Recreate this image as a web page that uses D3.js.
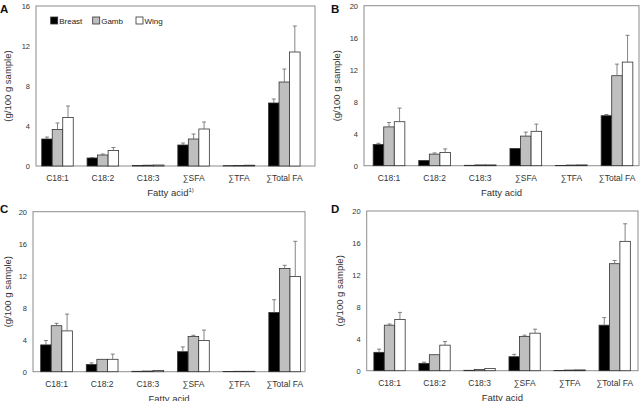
<!DOCTYPE html>
<html>
<head>
<meta charset="utf-8">
<script src="https://cdn.jsdelivr.net/npm/d3@7"></script>
<style>
  body { margin: 0; background: #fff; }
  svg { display: block; font-family: "Liberation Sans", Arial, sans-serif; }
</style>
</head>
<body>
<div id="chart"></div>
<script>
// categories and series
const categories = ["C18:1", "C18:2", "C18:3", "∑SFA", "∑TFA", "∑Total FA"];
const series = ["Breast", "Gamb", "Wing"];
const seriesColors = ["#000000", "#bfbfbf", "#ffffff"];

// panel A (means, upper error)
const breastA = [2.7, 0.8, 0.05, 2.1, 0.03, 6.3];
const gambA   = [3.65, 1.1, 0.08, 2.7, 0.05, 8.4];
const wingA   = [4.85, 1.55, 0.1, 3.7, 0.08, 11.4];
const breastAErr = [0.2, 0.05, 0, 0.2, 0, 0.4];
const gambAErr   = [0.65, 0.1, 0, 0.5, 0, 1.3];
const wingAErr   = [1.15, 0.3, 0, 0.7, 0, 2.6];

// panel B
const breastB = [2.65, 0.65, 0.05, 2.15, 0.03, 6.25];
const gambB   = [4.85, 1.45, 0.1, 3.7, 0.08, 11.25];
const wingB   = [5.5, 1.65, 0.1, 4.3, 0.1, 12.95];
const breastBErr = [0.15, 0, 0, 0, 0, 0.15];
const gambBErr   = [0.55, 0.15, 0, 0.5, 0, 1.45];
const wingBErr   = [1.7, 0.45, 0, 0.9, 0, 3.35];

// panel C
const breastC = [3.35, 0.9, 0.05, 2.5, 0.03, 7.4];
const gambC   = [5.75, 1.55, 0.08, 4.4, 0.05, 12.9];
const wingC   = [5.1, 1.55, 0.15, 3.9, 0.05, 11.9];
const breastCErr = [0.55, 0.2, 0, 0.6, 0, 1.6];
const gambCErr   = [0.3, 0, 0, 0.15, 0, 0.4];
const wingCErr   = [2.1, 0.65, 0, 1.3, 0, 4.4];

// panel D
const breastD = [2.3, 0.92, 0.05, 1.75, 0.03, 5.7];
const gambD   = [5.7, 2.0, 0.15, 4.3, 0.08, 13.4];
const wingD   = [6.4, 3.2, 0.28, 4.7, 0.1, 16.2];
const breastDErr = [0.4, 0.15, 0, 0.3, 0, 0.95];
const gambDErr   = [0.15, 0, 0, 0.15, 0, 0.4];
const wingDErr   = [0.9, 0.45, 0, 0.5, 0, 2.2];

const yTicksA = [0, 4, 8, 12, 16];
const yTicksBCD = [0, 4, 8, 12, 16, 20];

const panels = [
  { id: "A", means: [breastA, gambA, wingA], errs: [breastAErr, gambAErr, wingAErr],
    ymax: 16, ticks: yTicksA, legend: true, sup: true,
    frame: [36, 6, 315, 166], band: [34.8, 307], letter: [0, 13], ytitleX: 11 },
  { id: "B", means: [breastB, gambB, wingB], errs: [breastBErr, gambBErr, wingBErr],
    ymax: 20, ticks: yTicksBCD, legend: false, sup: false,
    frame: [364, 5.7, 639, 165.7], band: [366.2, 639.8], letter: [331, 13], ytitleX: 340 },
  { id: "C", means: [breastC, gambC, wingC], errs: [breastCErr, gambCErr, wingCErr],
    ymax: 20, ticks: yTicksBCD, legend: false, sup: false,
    frame: [33, 211.7, 305, 371.7], band: [33.7, 307.5], letter: [0, 213], ytitleX: 11 },
  { id: "D", means: [breastD, gambD, wingD], errs: [breastDErr, gambDErr, wingDErr],
    ymax: 20, ticks: yTicksBCD, legend: false, sup: false,
    frame: [366.7, 211, 638, 370.7], band: [367, 637.2], letter: [331, 213], ytitleX: 343 }
];

const svg = d3.select("#chart").append("svg")
  .attr("width", 640).attr("height", 401);

panels.forEach(p => {
  const [left, top, right, bottom] = p.frame;
  const g = svg.append("g");

  const y = d3.scaleLinear().domain([0, p.ymax]).range([bottom, top]);
  const x0 = d3.scaleBand().domain(categories).range(p.band)
    .paddingInner(0.305).paddingOuter(0.1525);
  const x1 = d3.scaleBand().domain(series).range([0, x0.bandwidth()]);

  // frame
  g.append("rect")
    .attr("x", left).attr("y", top)
    .attr("width", right - left).attr("height", bottom - top)
    .attr("fill", "none").attr("stroke", "#8c8c8c").attr("stroke-width", 1);

  // y axis (labels only)
  const axisY = d3.axisLeft(y).tickValues(p.ticks).tickSize(0).tickPadding(6);
  g.append("g").attr("transform", `translate(${left},0)`).call(axisY)
    .call(s => s.select(".domain").remove())
    .selectAll("text").attr("font-size", 7.5).attr("fill", "#333")
    .attr("font-family", "Liberation Sans, Arial, sans-serif");

  // x axis (labels only)
  const axisX = d3.axisBottom(x0).tickSize(0).tickPadding(9);
  g.append("g").attr("transform", `translate(0,${bottom})`).call(axisX)
    .call(s => s.select(".domain").remove())
    .selectAll("text").attr("font-size", 8.5).attr("fill", "#333")
    .attr("font-family", "Liberation Sans, Arial, sans-serif");

  // bars
  series.forEach((s, si) => {
    const rows = categories.map((c, ci) => ({ c, v: p.means[si][ci], e: p.errs[si][ci] }));
    const sg = g.append("g");
    sg.selectAll("rect").data(rows).join("rect")
      .attr("x", d => x0(d.c) + x1(s))
      .attr("y", d => y(d.v))
      .attr("width", x1.bandwidth())
      .attr("height", d => y(0) - y(d.v))
      .attr("fill", seriesColors[si])
      .attr("stroke", "#333").attr("stroke-width", 0.8);

    const eb = rows.filter(d => d.e > 0);
    sg.selectAll("line.err").data(eb).join("line").attr("class", "err")
      .attr("x1", d => x0(d.c) + x1(s) + x1.bandwidth() / 2)
      .attr("x2", d => x0(d.c) + x1(s) + x1.bandwidth() / 2)
      .attr("y1", d => y(d.v))
      .attr("y2", d => y(d.v + d.e))
      .attr("stroke", "#666").attr("stroke-width", 0.8);
    sg.selectAll("line.cap").data(eb).join("line").attr("class", "cap")
      .attr("x1", d => x0(d.c) + x1(s) + x1.bandwidth() / 2 - 2)
      .attr("x2", d => x0(d.c) + x1(s) + x1.bandwidth() / 2 + 2)
      .attr("y1", d => y(d.v + d.e))
      .attr("y2", d => y(d.v + d.e))
      .attr("stroke", "#666").attr("stroke-width", 0.8);
  });

  // panel letter
  g.append("text").attr("x", p.letter[0]).attr("y", p.letter[1])
    .attr("font-size", 11.5).attr("font-weight", "bold").attr("fill", "#111")
    .text(p.id);

  // y title
  g.append("text")
    .attr("transform", `translate(${p.ytitleX},${(top + bottom) / 2}) rotate(-90)`)
    .attr("text-anchor", "middle").attr("font-size", 9.5).attr("fill", "#333")
    .text("(g/100 g sample)");

  // x title
  const xt = g.append("text")
    .attr("x", (left + right) / 2 - (p.sup ? 5 : 0)).attr("y", bottom + 30)
    .attr("text-anchor", "middle").attr("font-size", 9.5).attr("fill", "#333")
    .text("Fatty acid");
  if (p.sup) {
    xt.append("tspan").attr("dy", -4).attr("font-size", 6).text("1)");
  }

  // legend
  if (p.legend) {
    const lx = [50.7, 92.7, 136];
    const lg = g.append("g").attr("transform", `translate(0,${top + 11})`);
    series.forEach((s, si) => {
      lg.append("rect").attr("x", lx[si]).attr("y", 0).attr("width", 7).attr("height", 7)
        .attr("fill", seriesColors[si]).attr("stroke", "#333").attr("stroke-width", 0.8);
      lg.append("text").attr("x", lx[si] + 8.5).attr("y", 7)
        .attr("font-size", 8).attr("fill", "#222").text(s);
    });
  }
});
</script>
</body>
</html>
